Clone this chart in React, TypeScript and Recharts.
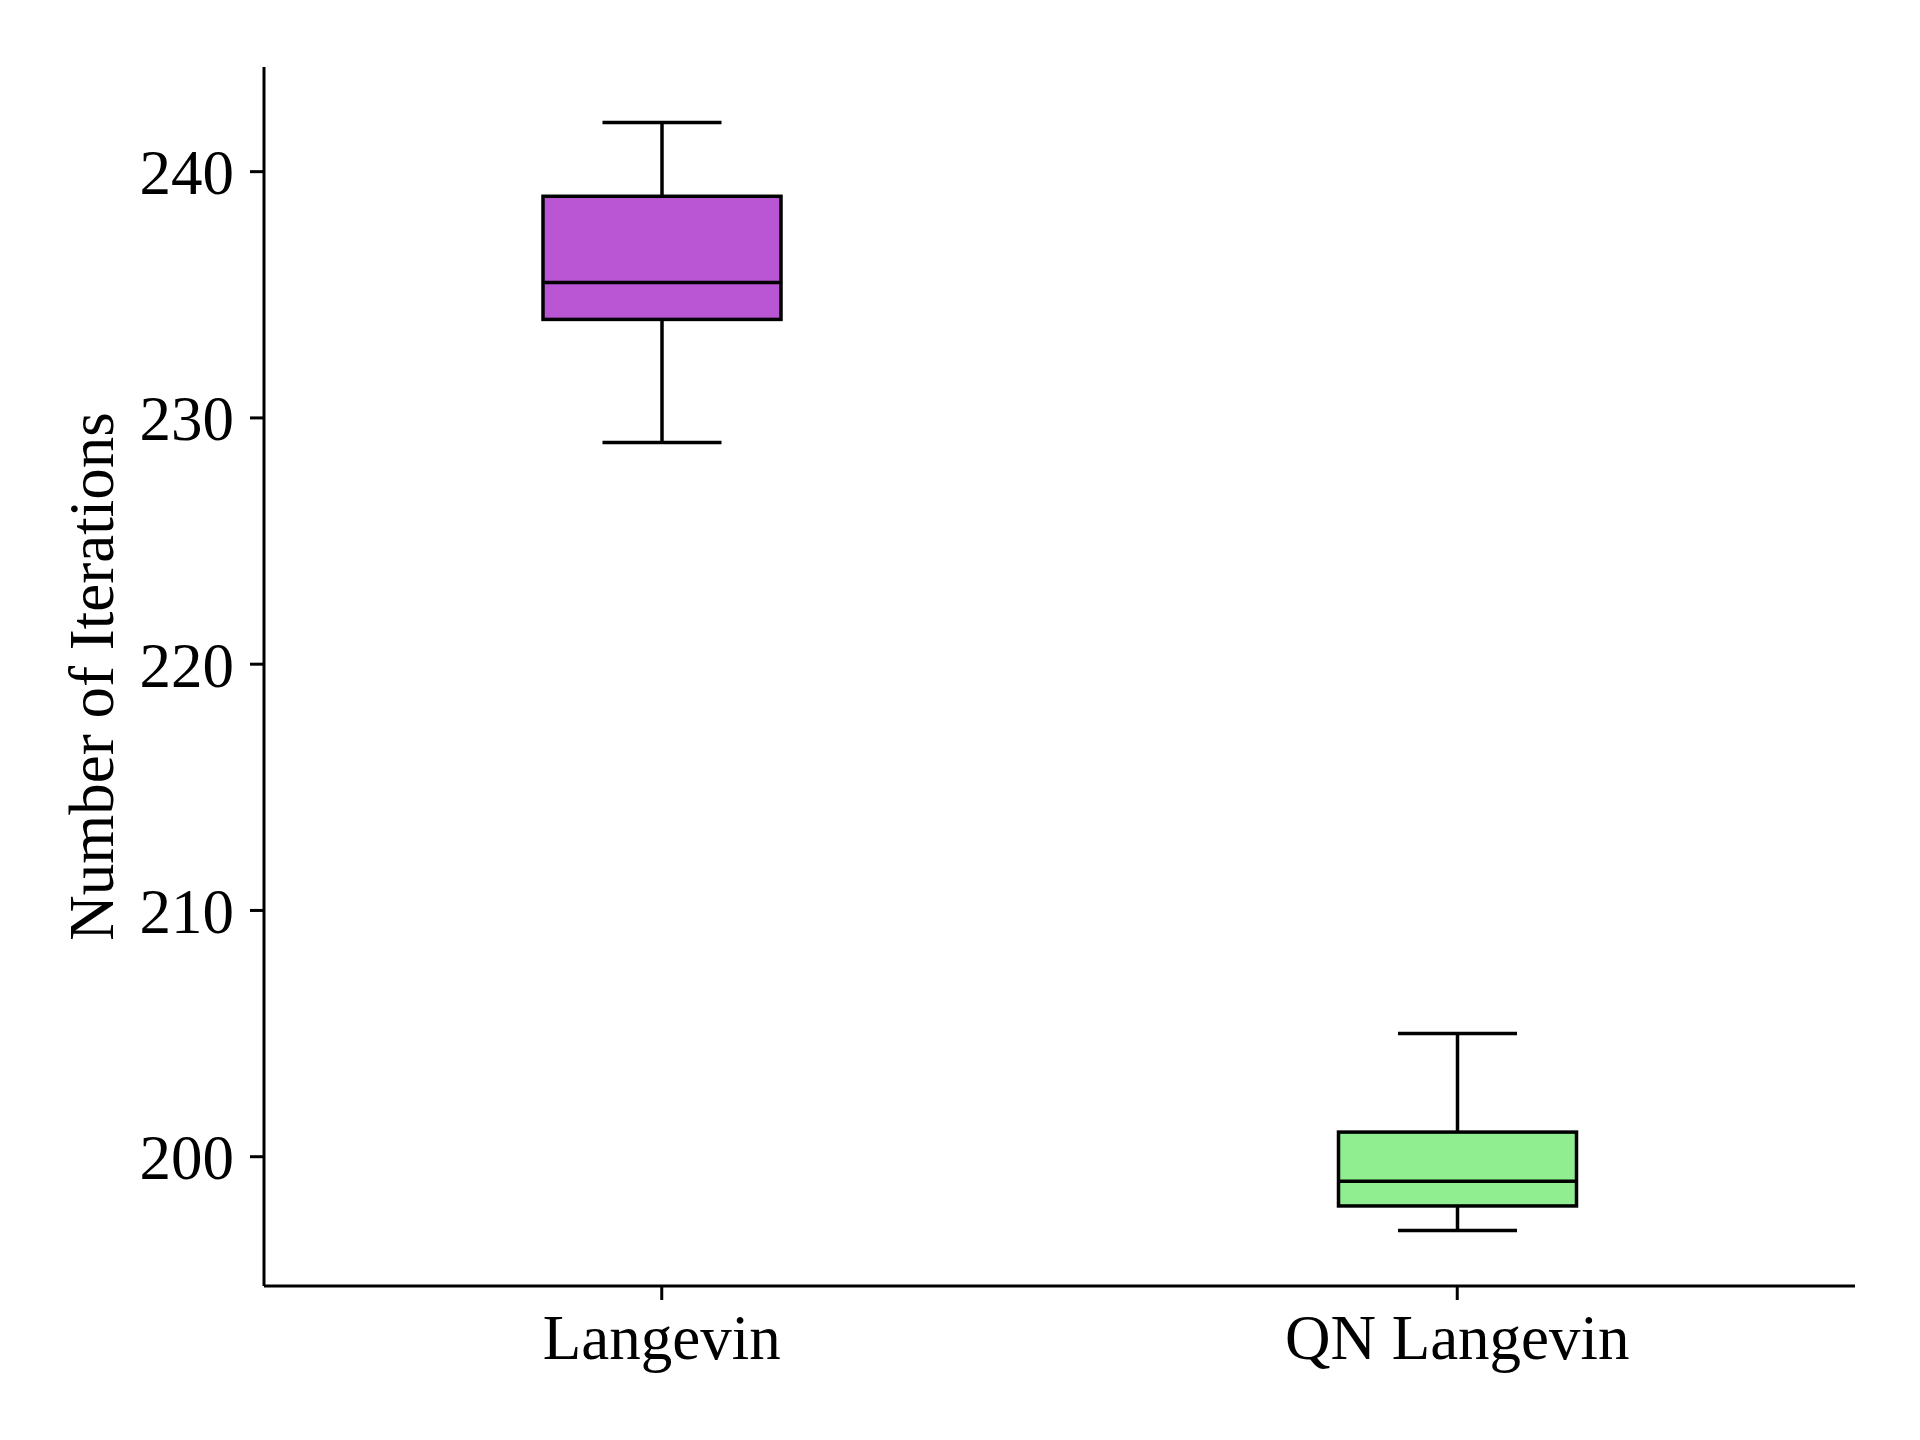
import { ComposedChart, Bar, XAxis, YAxis, Cell } from 'recharts';

document.body.style.margin = '0';

const methods = ['Langevin', 'QN Langevin'];
const whiskerLow = [229, 197];
const quartile1 = [234, 198];
const medians = [235.5, 199];
const quartile3 = [239, 201];
const whiskerHigh = [242, 205];
const boxColors = ['#BA55D3', '#90EE90'];
const yTicks = [200, 210, 220, 230, 240];

const data = methods.map((name, i) => ({
  name,
  low: whiskerLow[i],
  q1: quartile1[i],
  median: medians[i],
  q3: quartile3[i],
  high: whiskerHigh[i],
  range: [whiskerLow[i], whiskerHigh[i]],
}));

const FONT = '"Liberation Serif", "DejaVu Serif", serif';
const FS = 63;
const LW = 3.5;

// draws the whole box + whiskers inside the range bar's pixel extent
const BoxShape = (props: any) => {
  const { x, y, width, height, payload, fill } = props;
  const { low, high, q1, median, q3 } = payload;
  const top = Math.min(y, y + height);
  const h = Math.abs(height);
  const ppu = h / (high - low);
  const py = (v: number) => top + (high - v) * ppu;
  const cx = x + width / 2;
  const cap = width / 4;
  return (
    <g>
      <line x1={cx} x2={cx} y1={py(high)} y2={py(q3)} stroke="#000" strokeWidth={LW} />
      <line x1={cx} x2={cx} y1={py(q1)} y2={py(low)} stroke="#000" strokeWidth={LW} />
      <line x1={cx - cap} x2={cx + cap} y1={py(high)} y2={py(high)} stroke="#000" strokeWidth={LW} />
      <line x1={cx - cap} x2={cx + cap} y1={py(low)} y2={py(low)} stroke="#000" strokeWidth={LW} />
      <rect x={x} y={py(q3)} width={width} height={py(q1) - py(q3)} fill={fill} stroke="#000" strokeWidth={LW} />
      <line x1={x} x2={x + width} y1={py(median)} y2={py(median)} stroke="#000" strokeWidth={LW} />
    </g>
  );
};

const YLabel = (props: any) => {
  const { viewBox } = props;
  const lx = 113;
  const ly = viewBox.y + viewBox.height / 2;
  return (
    <text
      x={lx}
      y={ly}
      transform={`rotate(-90, ${lx}, ${ly})`}
      textAnchor="middle"
      fontFamily={FONT}
      fontSize={FS}
      fill="#000"
    >
      Number of Iterations
    </text>
  );
};

export default function App() {
  return (
    <div style={{ width: 1920, height: 1440, background: '#fff' }}>
      <ComposedChart
        width={1920}
        height={1440}
        data={data}
        margin={{ top: 67, right: 65, bottom: 54, left: 0 }}
      >
        <XAxis
          dataKey="name"
          height={100}
          tickSize={14}
          tickMargin={14}
          axisLine={{ stroke: '#000', strokeWidth: 3 }}
          tickLine={{ stroke: '#000', strokeWidth: 3 }}
          tick={{ fill: '#000', fontSize: FS, fontFamily: FONT }}
        />
        <YAxis
          width={264}
          domain={[194.75, 244.25]}
          ticks={yTicks}
          allowDataOverflow
          tickSize={14}
          tickMargin={16}
          axisLine={{ stroke: '#000', strokeWidth: 3 }}
          tickLine={{ stroke: '#000', strokeWidth: 3 }}
          tick={{ fill: '#000', fontSize: FS, fontFamily: FONT }}
          label={{ content: YLabel }}
        />
        <Bar dataKey="range" barSize={238} shape={BoxShape} isAnimationActive={false}>
          {data.map((d, i) => (
            <Cell key={d.name} fill={boxColors[i]} />
          ))}
        </Bar>
      </ComposedChart>
    </div>
  );
}
